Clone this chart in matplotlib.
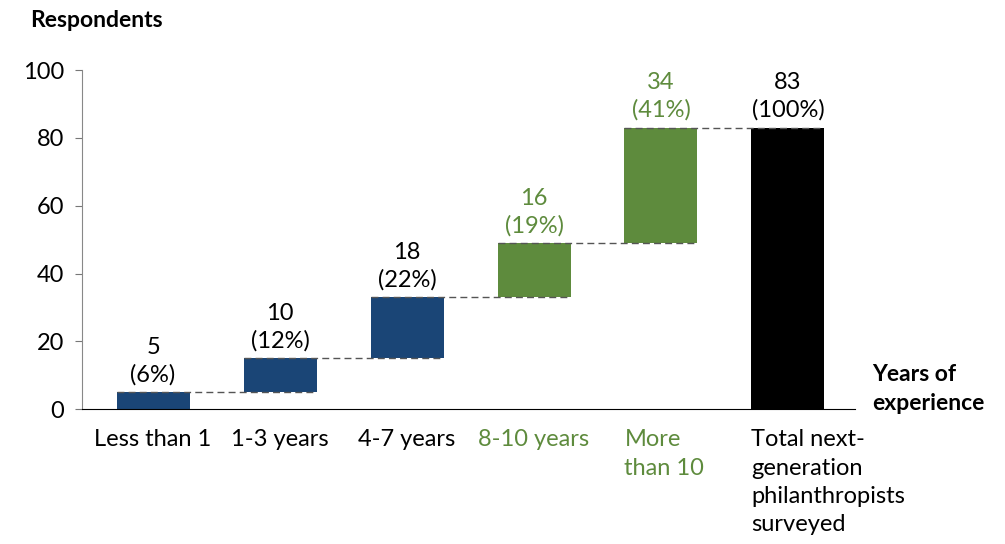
import numpy as np
import matplotlib.pyplot as plt
from matplotlib.transforms import blended_transform_factory

# respondents by years of experience
categories = ["Less than 1", "1-3 years", "4-7 years", "8-10 years",
              "More\nthan 10", "Total next-\ngeneration\nphilanthropists\nsurveyed"]
counts = [5, 10, 18, 16, 34]
shares = [6, 12, 22, 19, 41]
total = 83

navy = "#1a4576"
green = "#5e8b3d"
bar_colors = [navy, navy, navy, green, green, "black"]
text_colors = ["black", "black", "black", green, green, "black"]

plt.rcParams["font.family"] = ["Lato", "DejaVu Sans"]

fig = plt.figure(figsize=(10.05, 5.44), dpi=100)
ax = fig.add_axes([0.0816, 0.248, 0.7694, 0.623])

tops = np.cumsum(counts)
bottoms = tops - np.array(counts)
heights = list(counts) + [total]
bases = list(bottoms) + [0]
x = np.arange(len(categories))
w = 0.575

ax.bar(x, heights, bottom=bases, width=w, color=bar_colors, zorder=2)

# dashed connectors between consecutive bars
for i in range(len(tops)):
    ax.plot([x[i] - w / 2, x[i + 1] + w / 2], [tops[i], tops[i]],
            color="#555555", lw=1, ls=(0, (5, 3)), zorder=3)

# value labels
vals = list(counts) + [total]
pcts = list(shares) + [100]
for i in range(len(x)):
    ax.text(x[i], bases[i] + heights[i] + 2.0, f"{vals[i]}\n({pcts[i]}%)",
            ha="center", va="bottom", fontsize=17, color=text_colors[i],
            linespacing=1.35)

# category labels under the axis
tr = blended_transform_factory(ax.transData, ax.transAxes)
for i, lab in enumerate(categories):
    if "\n" in lab:
        ax.text(x[i] - w / 2, -0.06, lab, transform=tr, ha="left", va="top",
                fontsize=17, color=text_colors[i], linespacing=1.42)
    else:
        ax.text(x[i], -0.06, lab, transform=tr, ha="center", va="top",
                fontsize=17, color=text_colors[i])

ax.set_xlim(-0.56, 5.53)
ax.set_ylim(0, 100)
ax.set_xticks([])
ax.set_yticks(range(0, 101, 20))
ax.tick_params(axis="y", labelsize=17, length=5, color="#777777", pad=8)
for s in ["top", "right"]:
    ax.spines[s].set_visible(False)
ax.spines["left"].set_color("#888888")
ax.spines["bottom"].set_color("black")

fig.text(0.030, 0.963, "Respondents", fontsize=16.5, fontweight="bold", va="center")
fig.text(0.868, 0.285, "Years of\nexperience", fontsize=16.5, fontweight="bold",
         va="center", linespacing=1.45)

fig.savefig("out.png", dpi=100)
